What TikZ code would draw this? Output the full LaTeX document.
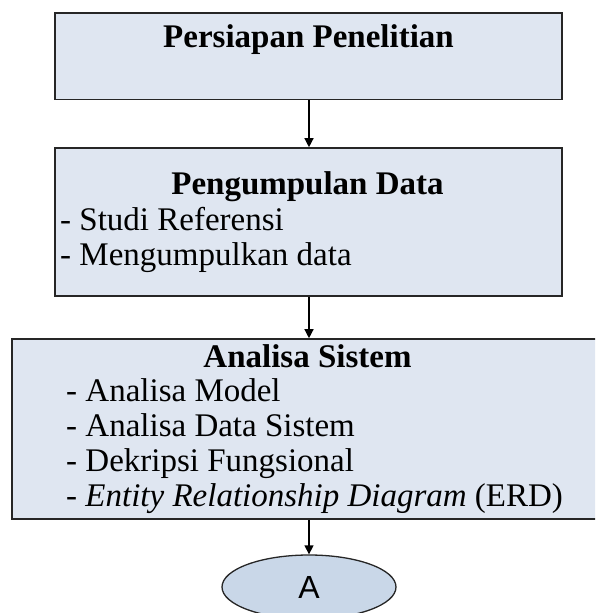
\documentclass[tikz,border=0pt]{standalone}
\usepackage{fontspec}
\setmainfont{Liberation Serif}
\newfontfamily\labelsans{Liberation Sans}
\usetikzlibrary{arrows.meta,shapes.geometric}

\definecolor{boxfill}{HTML}{DFE6F1}
\definecolor{ovalfill}{HTML}{C9D7E8}
\definecolor{edge}{HTML}{262626}

\tikzset{
  stagebox/.style={draw=edge, line width=1.6pt, fill=boxfill, inner sep=0pt},
  headtext/.style={anchor=base, inner sep=0pt, font=\fontsize{33}{35}\selectfont\bfseries},
  itemtext/.style={anchor=base west, inner sep=0pt, font=\fontsize{33}{35}\selectfont},
  connector/.style={draw=black, line width=1.3pt, -{Triangle[width=9pt,length=9pt]}},
  terminal/.style={ellipse, draw=edge, line width=1.3pt, fill=ovalfill, inner sep=0pt,
    minimum width=174pt, minimum height=64pt, font=\labelsans\fontsize{32}{34}\selectfont}
}

\begin{document}
\begin{tikzpicture}[x=1pt, y=1pt]
\useasboundingbox (0,0) rectangle (595,-613);
\clip (0,0) rectangle (595,-613);

% stage 1
\node[stagebox, minimum width=507pt, minimum height=86.5pt] (persiapan) at (308.5,-56.2) {};
\node[headtext] (tPersiapan) at (308.5,-47) {Persiapan Penelitian};

% stage 2
\node[stagebox, minimum width=507pt, minimum height=148pt] (pengumpulan) at (308.5,-222) {};
\node[headtext] (tPengumpulan) at (307.5,-194.3) {Pengumpulan Data};
\node[itemtext] (iStudi) at (60,-230) {- Studi Referensi};
\node[itemtext] (iMengumpulkan) at (60,-265) {- Mengumpulkan data};

% stage 3 (runs past the right margin)
\node[stagebox, minimum width=598pt, minimum height=180pt] (analisa) at (310.7,-429) {};
\node[headtext] (tAnalisa) at (307.5,-367.7) {Analisa Sistem};
\node[itemtext] (iModel) at (66,-401.7) {- Analisa Model};
\node[itemtext] (iDataSistem) at (66,-436.7) {- Analisa Data Sistem};
\node[itemtext] (iFungsional) at (66,-471.7) {- Dekripsi Fungsional};
\node[itemtext] (iERD) at (66,-506.7) {- \textit{Entity Relationship Diagram} (ERD)};

% off-page connector
\node[terminal] (konektorA) at (309,-587) {A};

% flow
\draw[connector] (persiapan.south -| konektorA) -- (pengumpulan.north -| konektorA);
\draw[connector] (pengumpulan.south -| konektorA) -- (analisa.north -| konektorA);
\draw[connector] (analisa.south -| konektorA) -- (konektorA.north);
\end{tikzpicture}
\end{document}
